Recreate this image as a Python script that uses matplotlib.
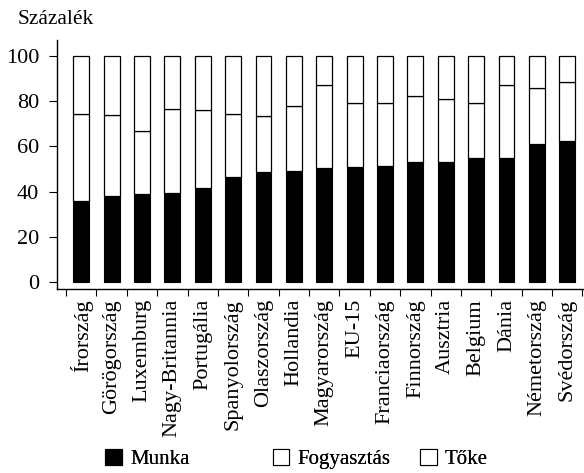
import matplotlib.pyplot as plt
from matplotlib.patches import Patch

plt.rcParams['font.family'] = ['Liberation Serif', 'DejaVu Serif']

orszagok = ["Írország", "Görögország", "Luxemburg", "Nagy-Britannia", "Portugália",
            "Spanyolország", "Olaszország", "Hollandia", "Magyarország", "EU-15",
            "Franciaország", "Finnország", "Ausztria", "Belgium", "Dánia",
            "Németország", "Svédország"]
munka = [36, 38, 39, 39.5, 41.5, 46.5, 48.5, 49, 50.5, 51, 51.5, 53, 53, 55, 55, 61, 62.5]
fogyasztas = [38.5, 36, 28, 37, 34.5, 28, 25, 29, 36.5, 28, 27.5, 29.5, 28, 24, 32, 25, 26]
toke = [100 - m - f for m, f in zip(munka, fogyasztas)]

fig = plt.figure(figsize=(5.84, 4.73), dpi=100)
ax = fig.add_axes([0.098, 0.389, 0.902, 0.526])

x = list(range(len(orszagok)))
w = 0.52
ax.bar(x, munka, w, color="black", edgecolor="black", linewidth=0.8)
ax.bar(x, fogyasztas, w, bottom=munka, color="white", edgecolor="black", linewidth=0.9)
alj = [m + f for m, f in zip(munka, fogyasztas)]
ax.bar(x, toke, w, bottom=alj, color="white", edgecolor="black", linewidth=0.9)

ax.set_xlim(-0.79, 16.55)
ax.set_ylim(-3.1, 107)
ax.set_yticks([0, 20, 40, 60, 80, 100])
ax.tick_params(axis="y", labelsize=16, length=6, width=0.8, pad=7)

# category names sit between the tick marks, ticks at the bar boundaries
ax.set_xticks([i - 0.5 for i in x] + [len(x) - 0.5])
ax.set_xticklabels([])
ax.tick_params(axis="x", length=5, width=0.8)
for i, nev in enumerate(orszagok):
    ax.text(i, -0.04, nev, rotation=90, ha="center", va="top", fontsize=16,
            transform=ax.get_xaxis_transform())

for s in ["top", "right"]:
    ax.spines[s].set_visible(False)
ax.spines["left"].set_linewidth(1.0)
ax.spines["bottom"].set_linewidth(1.0)

fig.text(0.031, 0.958, "Százalék", fontsize=15.5, ha="left", va="center")

# three single-entry legends so each item can be placed freely
elemek = [("Munka", "black", 0.180),
          ("Fogyasztás", "white", 0.467),
          ("Tőke", "white", 0.719)]
for nev, szin, xpos in elemek:
    lg = fig.legend(handles=[Patch(facecolor=szin, edgecolor="black", linewidth=0.8, label=nev)],
                    loc="center left", bbox_to_anchor=(xpos, 0.03), frameon=False,
                    fontsize=15, handlelength=0.8, handleheight=0.8,
                    handletextpad=0.4, borderpad=0, borderaxespad=0)
    fig.add_artist(lg)

fig.savefig("out.png", dpi=100)
